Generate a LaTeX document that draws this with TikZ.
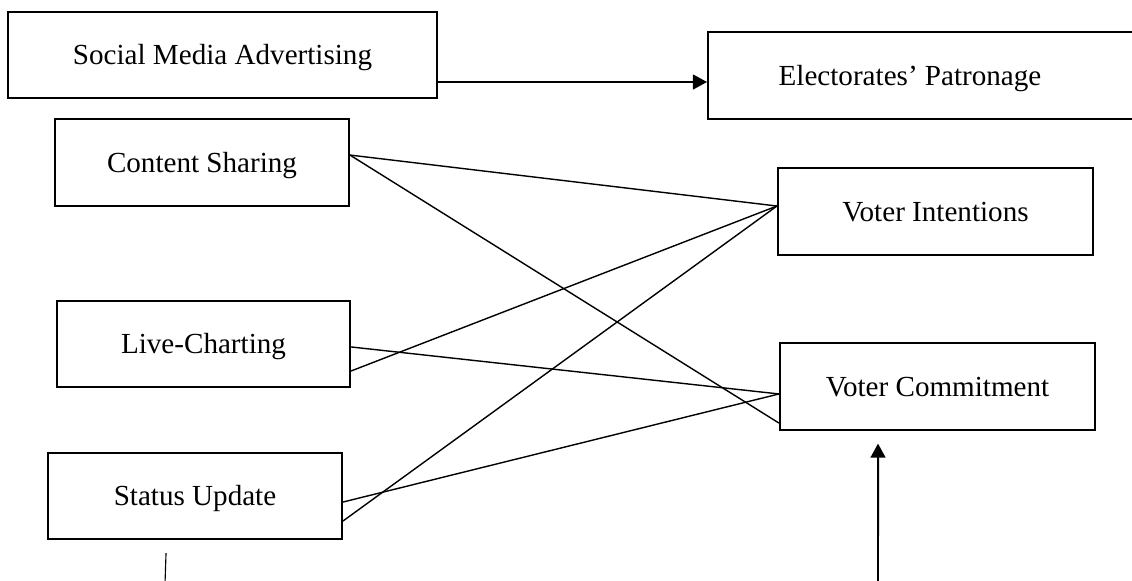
\documentclass[tikz,border=0pt]{standalone}
\usepackage{fontspec}
\setmainfont{Liberation Serif}
\usepackage{tikz}
\usetikzlibrary{arrows.meta, positioning, calc}
\tikzset{
    box/.style={draw, line width=1.3pt, minimum height=2.16cm, inner sep=0pt,
        text height=15pt, text depth=1pt},
    link/.style={line width=1pt},
    arrow/.style={-{Triangle[length=10pt, width=10.5pt]}, line width=1.4pt},
    every node/.style={font=\fontsize{20.7}{24}\selectfont}
}

\begin{document}
\begin{tikzpicture}[x=0.025cm, y=-0.025cm]
    \useasboundingbox (0,0) rectangle (1132,580);
    % dimension boxes
    \node[box, minimum width=10.72cm] (sma) at (222.5,55) {Social Media Advertising};
    \node[box, minimum width=10.8cm] (ep) at (924,75.5) {Electorates’ Patronage\hspace*{0.7cm}};
    \node[box, minimum width=7.35cm] (cs) at (202,162.5) {Content Sharing};
    \node[box, minimum width=7.33cm] (lc) at (203.5,344) {Live-Charting};
    \node[box, minimum width=7.35cm] (su) at (195,496) {Status Update};
    \node[box, minimum width=7.88cm] (vi) at (935.5,211.5) {Voter Intentions};
    \node[box, minimum width=7.88cm] (vc) at (937.5,386.5) {Voter Commitment};
    % main relation
    \coordinate (adv) at ([yshift=-19.2pt]sma.east);
    \draw[arrow] (adv) -- (adv -| ep.west);
    % links to voter intentions
    \draw[link] ([yshift=5.3pt]cs.east) -- ([yshift=3.9pt]vi.west);
    \draw[link] ([yshift=-19.2pt]lc.east) -- ([yshift=3.9pt]vi.west);
    \draw[link] ([yshift=-17.8pt]su.east) -- ([yshift=3.9pt]vi.west);
    % links to voter commitment
    \draw[link] ([yshift=5.3pt]cs.east) -- ([yshift=-26pt]vc.west);
    \draw[link] ([yshift=-2.1pt]lc.east) -- ([yshift=-5.3pt]vc.west);
    \draw[link] ([yshift=-4.3pt]su.east) -- ([yshift=-5.3pt]vc.west);
    % lines from below
    \coordinate (sufoot) at (165,584);
    \draw[line width=0.8pt] ([xshift=-20.6pt, yshift=-9.2pt]su.south) -- (sufoot);
    \coordinate (vcfoot) at (878,584);
    \draw[arrow] (vcfoot) -- ([xshift=-42.3pt, yshift=-9.2pt]vc.south);
\end{tikzpicture}
\end{document}
